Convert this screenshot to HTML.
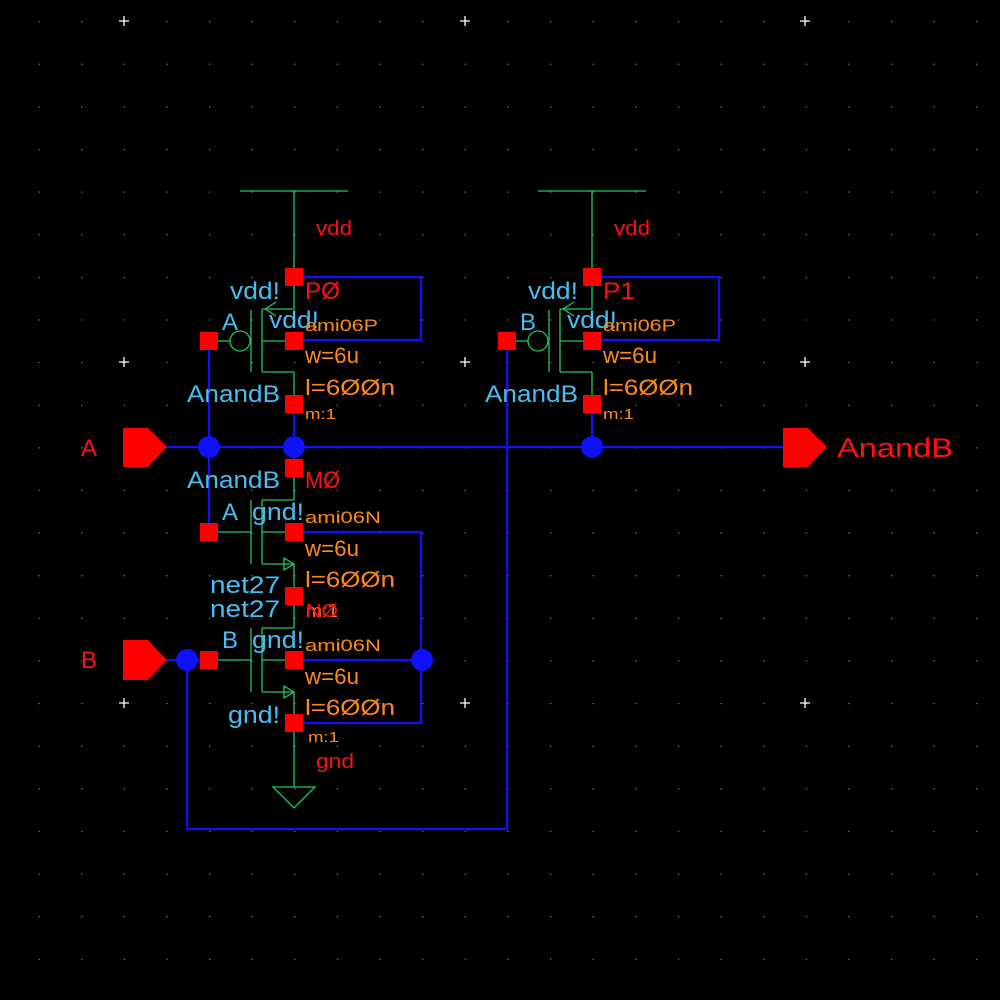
<!DOCTYPE html>
<html><head><meta charset="utf-8"><style>
html,body{margin:0;padding:0;background:#000;width:1000px;height:1000px;overflow:hidden}
svg{display:block}
text{font-family:"Liberation Sans",sans-serif}
.c{fill:#48bdf0}.o{fill:#ff8a1a}.r{fill:#ff1010}
</style></head><body>
<svg width="1000" height="1000" viewBox="0 0 1000 1000" xmlns="http://www.w3.org/2000/svg">
<defs>
<pattern id="g" x="38.5" y="21" width="42.625" height="42.625" patternUnits="userSpaceOnUse">
<rect x="0" y="0" width="1.2" height="1.2" fill="#888"/>
</pattern>
<g id="pm">
 <g stroke="#22c55e" stroke-width="1.3" fill="none">
  <line x1="294" y1="277" x2="294" y2="309"/>
  <line x1="262" y1="309" x2="294" y2="309"/>
  <polyline points="276,302 265,309 276,316"/>
  <line x1="262" y1="309" x2="262" y2="372"/>
  <line x1="262" y1="341" x2="294" y2="341"/>
  <line x1="262" y1="372" x2="294" y2="372"/>
  <line x1="294" y1="372" x2="294" y2="404"/>
  <line x1="251" y1="310" x2="251" y2="372"/>
  <circle cx="240" cy="341" r="10"/>
  <line x1="218" y1="341" x2="230" y2="341"/>
 </g>
</g>
<g id="nm">
 <g stroke="#22c55e" stroke-width="1.3" fill="none">
  <line x1="294" y1="468" x2="294" y2="500"/>
  <line x1="262" y1="500" x2="294" y2="500"/>
  <line x1="262" y1="500" x2="262" y2="564"/>
  <line x1="262" y1="532" x2="294" y2="532"/>
  <line x1="262" y1="564" x2="294" y2="564"/>
  <polygon points="284,558 294,564 284,570" />
  <line x1="294" y1="564" x2="294" y2="596"/>
  <line x1="251" y1="500" x2="251" y2="564"/>
  <line x1="218" y1="532" x2="251" y2="532"/>
 </g>
</g>
</defs>
<rect width="1000" height="1000" fill="url(#g)"/>
<g stroke="#fff" stroke-width="1.3">
 <path d="M119,21h10M124,16v10M460,21h10M465,16v10M800,21h10M805,16v10M119,362h10M124,357v10M460,362h10M465,357v10M800,362h10M805,357v10M119,703h10M124,698v10M460,703h10M465,698v10M800,703h10M805,698v10"/>
</g>

<g stroke="#22c55e" stroke-width="1.3">
 <line x1="240" y1="191" x2="348" y2="191"/><line x1="294" y1="191" x2="294" y2="277"/>
 <line x1="538" y1="191" x2="646" y2="191"/><line x1="592" y1="191" x2="592" y2="277"/>
 <line x1="294" y1="723" x2="294" y2="787"/>
 <line x1="167" y1="660" x2="209" y2="660" stroke="#1010ff" stroke-width="2"/>
</g>
<polygon points="273,787 315,787 294,808" fill="none" stroke="#22c55e" stroke-width="1.3"/>

<use href="#pm"/>
<use href="#pm" transform="translate(298,0)"/>
<use href="#nm"/>
<use href="#nm" transform="translate(0,128)"/>

<g stroke="#1010ff" stroke-width="2.2" fill="none">
 <line x1="167" y1="447" x2="783" y2="447"/>
 <line x1="209" y1="341" x2="209" y2="532"/>
 <line x1="294" y1="404" x2="294" y2="468"/>
 <polyline points="294,277 421,277 421,340 294,340"/>
 <polyline points="592,277 719,277 719,340 592,340"/>
 <polyline points="294,532 421,532 421,723 294,723"/>
 <line x1="294" y1="660" x2="422" y2="660"/>
 <polyline points="187,660 187,829 507,829 507,341"/>
 <line x1="592" y1="404" x2="592" y2="447"/>
</g>

<g fill="#ff0000">
 <polygon points="123,428 148,428 167,447 148,467 123,467"/>
 <polygon points="123,640 148,640 167,660 148,680 123,680"/>
 <polygon points="783,428 808,428 827,447 808,467 783,467"/>
</g>

<g fill="#1010ff">
 <circle cx="209" cy="447" r="11"/><circle cx="294" cy="447" r="11"/>
 <circle cx="592" cy="447" r="11"/><circle cx="187" cy="660" r="11"/>
 <circle cx="422" cy="660" r="11"/>
</g>

<g fill="#ff0000">
 <rect x="285" y="268" width="18" height="18"/><rect x="285" y="332" width="18" height="18"/>
 <rect x="200" y="332" width="18" height="18"/><rect x="285" y="395" width="18" height="18"/>
 <rect x="583" y="268" width="18" height="18"/><rect x="583" y="332" width="18" height="18"/>
 <rect x="498" y="332" width="18" height="18"/><rect x="583" y="395" width="18" height="18"/>
 <rect x="285" y="459" width="18" height="18"/><rect x="200" y="523" width="18" height="18"/>
 <rect x="285" y="523" width="18" height="18"/><rect x="285" y="587" width="18" height="18"/>
 <rect x="200" y="651" width="18" height="18"/><rect x="285" y="651" width="18" height="18"/>
 <rect x="285" y="714" width="18" height="18"/>
</g>

<g font-size="20" lengthAdjust="spacingAndGlyphs">
 <text class="r" x="316" y="235" textLength="36" lengthAdjust="spacingAndGlyphs">vdd</text>
 <text class="r" x="614" y="235" textLength="36" lengthAdjust="spacingAndGlyphs">vdd</text>
 <text class="r" x="316" y="768" textLength="38" lengthAdjust="spacingAndGlyphs">gnd</text>
</g>
<g font-size="24">
 <text class="r" x="305" y="299" textLength="35" lengthAdjust="spacingAndGlyphs">PØ</text>
 <text class="r" x="603" y="299" textLength="32" lengthAdjust="spacingAndGlyphs">P1</text>
 <text class="r" x="305" y="488" textLength="35" lengthAdjust="spacingAndGlyphs">MØ</text>
 <text class="r" x="81" y="456">A</text>
 <text class="r" x="81" y="668">B</text>
 <text class="r" x="837" y="457" font-size="27" textLength="116" lengthAdjust="spacingAndGlyphs">AnandB</text>
 <text class="c" x="230" y="299" textLength="50" lengthAdjust="spacingAndGlyphs">vdd!</text>
 <text class="c" x="528" y="299" textLength="50" lengthAdjust="spacingAndGlyphs">vdd!</text>
 <text class="c" x="222" y="330">A</text>
 <text class="c" x="520" y="330">B</text>
 <text class="c" x="269" y="328" textLength="50" lengthAdjust="spacingAndGlyphs">vdd!</text>
 <text class="c" x="567" y="328" textLength="50" lengthAdjust="spacingAndGlyphs">vdd!</text>
 <text class="c" x="187" y="402" textLength="93" lengthAdjust="spacingAndGlyphs">AnandB</text>
 <text class="c" x="485" y="402" textLength="93" lengthAdjust="spacingAndGlyphs">AnandB</text>
 <text class="c" x="187" y="488" textLength="93" lengthAdjust="spacingAndGlyphs">AnandB</text>
 <text class="c" x="222" y="520">A</text>
 <text class="c" x="252" y="520" textLength="52" lengthAdjust="spacingAndGlyphs">gnd!</text>
 <text class="c" x="210" y="593" textLength="70" lengthAdjust="spacingAndGlyphs">net27</text>
 <text class="c" x="210" y="617" textLength="70" lengthAdjust="spacingAndGlyphs">net27</text>
 <text class="c" x="222" y="648">B</text>
 <text class="c" x="252" y="648" textLength="52" lengthAdjust="spacingAndGlyphs">gnd!</text>
 <text class="c" x="228" y="723" textLength="52" lengthAdjust="spacingAndGlyphs">gnd!</text>
</g>
<g font-size="17">
 <text class="o" x="305" y="331" textLength="73" lengthAdjust="spacingAndGlyphs">ami06P</text>
 <text class="o" x="603" y="331" textLength="73" lengthAdjust="spacingAndGlyphs">ami06P</text>
 <text class="o" x="305" y="523" textLength="76" lengthAdjust="spacingAndGlyphs">ami06N</text>
 <text class="o" x="305" y="651" textLength="76" lengthAdjust="spacingAndGlyphs">ami06N</text>
</g>
<g font-size="22">
 <text class="o" x="305" y="363" textLength="54" lengthAdjust="spacingAndGlyphs">w=6u</text>
 <text class="o" x="305" y="395" textLength="90" lengthAdjust="spacingAndGlyphs">l=6ØØn</text>
 <text class="o" x="603" y="363" textLength="54" lengthAdjust="spacingAndGlyphs">w=6u</text>
 <text class="o" x="603" y="395" textLength="90" lengthAdjust="spacingAndGlyphs">l=6ØØn</text>
 <text class="o" x="305" y="556" textLength="54" lengthAdjust="spacingAndGlyphs">w=6u</text>
 <text class="o" x="305" y="587" textLength="90" lengthAdjust="spacingAndGlyphs">l=6ØØn</text>
 <text class="o" x="305" y="684" textLength="54" lengthAdjust="spacingAndGlyphs">w=6u</text>
 <text class="o" x="305" y="715" textLength="90" lengthAdjust="spacingAndGlyphs">l=6ØØn</text>
</g>
<g font-size="15">
 <text class="o" x="305" y="419" textLength="31" lengthAdjust="spacingAndGlyphs">m:1</text>
 <text class="o" x="603" y="419" textLength="31" lengthAdjust="spacingAndGlyphs">m:1</text>
 <text class="o" x="308" y="742" textLength="31" lengthAdjust="spacingAndGlyphs">m:1</text>
 <text class="o" x="306" y="617" font-size="18" textLength="32" lengthAdjust="spacingAndGlyphs">m:1</text>
 <text class="r" x="306" y="617" font-size="18" textLength="32" lengthAdjust="spacingAndGlyphs">NØ</text>
</g>
</svg>
</body></html>
